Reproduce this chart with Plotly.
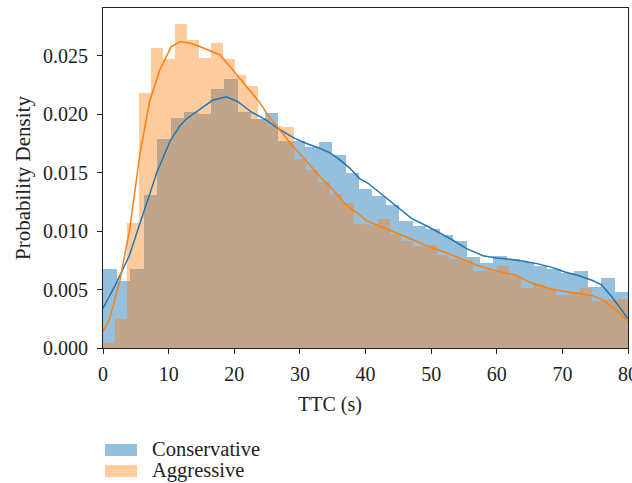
import numpy as np
import plotly.graph_objects as go

# ---------------- data ----------------
# histogram bins (density), both series span ~0.06 .. 80 s
cons_range = (0.06, 80.0)
cons_density = [0.0068, 0.0057, 0.0068, 0.0131, 0.0179, 0.0197, 0.0202, 0.0200, 0.0222, 0.0230,
                0.0202, 0.0196, 0.0201, 0.0177, 0.0177, 0.0172, 0.0176, 0.0165, 0.0150, 0.0136,
                0.0130, 0.0122, 0.0109, 0.0104, 0.0102, 0.0097, 0.0092, 0.0078, 0.0073, 0.0079,
                0.0076, 0.0074, 0.0070, 0.0068, 0.0064, 0.0066, 0.0052, 0.0060, 0.0048]

aggr_range = (0.06, 80.0)
aggr_density = [0.0004, 0.0025, 0.0107, 0.0218, 0.0257, 0.0247, 0.0277, 0.0264, 0.0248, 0.0261,
                0.0247, 0.0234, 0.0224, 0.0196, 0.0190, 0.0189, 0.0162, 0.0152, 0.0142, 0.0132,
                0.0124, 0.0106, 0.0105, 0.0110, 0.0098, 0.0092, 0.0087, 0.0088, 0.0080, 0.0076,
                0.0075, 0.0066, 0.0067, 0.0070, 0.0062, 0.0051, 0.0055, 0.0051, 0.0045, 0.0048,
                0.0051, 0.0040, 0.0041, 0.0042]

# KDE curves
cons_kde_x = [0.0, 1.9, 4.0, 6.2, 8.25, 10.3, 11.7, 12.7, 14.7, 16.7, 18.8, 20.5, 22.6, 24.9, 26.9,
              29.0, 31.0, 33.0, 34.6, 36.1, 37.6, 39.1, 40.4, 42.4, 44.5, 47.0, 49.5, 52.1, 53.4,
              55.4, 57.9, 60.0, 62.0, 64.3, 66.3, 68.4, 70.4, 72.4, 74.5, 76.0, 77.5, 79.1, 80.0]
cons_kde_y = [0.0034, 0.0054, 0.0079, 0.0117, 0.0151, 0.0178, 0.0190, 0.0196, 0.0204, 0.0212, 0.0215,
              0.0211, 0.0202, 0.0195, 0.0187, 0.0180, 0.0175, 0.0171, 0.0167, 0.0161, 0.0154, 0.0145,
              0.0141, 0.0132, 0.0122, 0.0111, 0.0104, 0.0096, 0.0092, 0.0085, 0.0079, 0.0077, 0.0076,
              0.0074, 0.0072, 0.0069, 0.0065, 0.0062, 0.0058, 0.0054, 0.0044, 0.0032, 0.0025]

aggr_kde_x = [0.0, 1.0, 2.55, 4.07, 5.6, 7.1, 8.65, 10.4, 11.7, 13.2, 14.7, 17.8, 19.8, 21.8, 23.9,
              25.4, 26.9, 29.0, 31.0, 33.0, 35.1, 37.1, 39.1, 40.1, 42.4, 44.9, 47.5, 49.5, 52.1,
              53.4, 55.4, 57.4, 60.0, 63.0, 65.1, 68.4, 71.9, 74.5, 76.2, 77.8, 80.0]
aggr_kde_y = [0.0014, 0.0025, 0.0057, 0.0102, 0.0165, 0.0211, 0.0238, 0.0258, 0.0262, 0.0261, 0.0258,
              0.0251, 0.0238, 0.0224, 0.0210, 0.0197, 0.0187, 0.0172, 0.0160, 0.0147, 0.0135, 0.0122,
              0.0114, 0.0109, 0.0104, 0.0098, 0.0092, 0.0087, 0.0082, 0.0079, 0.0074, 0.0070, 0.0066,
              0.0062, 0.0056, 0.0050, 0.0047, 0.0045, 0.0041, 0.0034, 0.0023]

x_ticks = [0, 10, 20, 30, 40, 50, 60, 70, 80]
y_ticks = [0.000, 0.005, 0.010, 0.015, 0.020, 0.025]
series_names = ["Conservative", "Aggressive"]
x_title = "TTC (s)"
y_title = "Probability Density"

# ---------------- styling ----------------
BLUE = "#1f77b4"
ORANGE = "#ff7f0e"
BLUE_FILL = "rgba(31,119,180,0.47)"
ORANGE_FILL = "rgba(255,127,14,0.40)"
FONT = "Liberation Serif"
TXT = "#222222"
FS = 20


def bins(rng, dens):
    edges = np.linspace(rng[0], rng[1], len(dens) + 1)
    return (edges[:-1] + edges[1:]) / 2, edges[1] - edges[0]


fig = go.Figure()
cx, cw = bins(cons_range, cons_density)
ax, aw = bins(aggr_range, aggr_density)

fig.add_trace(go.Bar(x=cx, y=cons_density, width=cw, marker=dict(color=BLUE_FILL, line=dict(width=0)),
                     name=series_names[0], showlegend=False))
fig.add_trace(go.Scatter(x=cons_kde_x, y=cons_kde_y, mode="lines", line=dict(color=BLUE, width=1.5),
                         showlegend=False))
fig.add_trace(go.Bar(x=ax, y=aggr_density, width=aw, marker=dict(color=ORANGE_FILL, line=dict(width=0)),
                     name=series_names[1], showlegend=False))
fig.add_trace(go.Scatter(x=aggr_kde_x, y=aggr_kde_y, mode="lines", line=dict(color=ORANGE, width=1.5),
                         showlegend=False))

# layout geometry (pixels)
W, H = 632, 483
ml, mr, mt, mb = 103, 4, 8, 135
pw, ph = W - ml - mr, H - mt - mb


def px_to_paper(xp, yp):
    return (xp - ml) / pw, (H - mb - yp) / ph


# manual legend below the plot (patch + text)
for i, (name, col) in enumerate(zip(series_names, [BLUE_FILL, ORANGE_FILL])):
    yc = 450 + i * 21
    x0, y0 = px_to_paper(105, yc - 6)
    x1, y1 = px_to_paper(137, yc + 6)
    fig.add_shape(type="rect", xref="paper", yref="paper", x0=x0, x1=x1, y0=y1, y1=y0,
                  fillcolor=col, line=dict(width=0))
    tx, ty = px_to_paper(150, yc - 1)
    fig.add_annotation(xref="paper", yref="paper", x=tx, y=ty, text=name, showarrow=False,
                       xanchor="left", yanchor="middle", font=dict(family=FONT, size=20.5, color=TXT))

# x axis title (sits left of centre in the reference)
tx, ty = px_to_paper(330, 404)
fig.add_annotation(xref="paper", yref="paper", x=tx, y=ty, text=x_title, showarrow=False,
                   xanchor="center", yanchor="middle", font=dict(family=FONT, size=FS, color=TXT))

axis_common = dict(showline=True, linecolor=TXT, linewidth=1.2, mirror=True, ticks="outside",
                   ticklen=5, tickwidth=1.2, tickcolor=TXT, showgrid=False, zeroline=False,
                   tickfont=dict(family=FONT, size=FS, color=TXT), ticklabeloverflow="allow",
                   automargin=False)

fig.update_layout(
    width=W, height=H,
    margin=dict(l=ml, r=mr, t=mt, b=mb, autoexpand=False),
    plot_bgcolor="white", paper_bgcolor="white",
    barmode="overlay", bargap=0,
    xaxis=dict(range=[0, 80], tickvals=x_ticks, ticktext=[str(v) for v in x_ticks],
               ticklabelstandoff=3, **axis_common),
    yaxis=dict(range=[0, 0.0291], tickvals=y_ticks, ticktext=[f"{v:.3f}" for v in y_ticks],
               title=dict(text=y_title, font=dict(family=FONT, size=21, color=TXT), standoff=6),
               ticklabelstandoff=5, **axis_common),
    font=dict(family=FONT),
)

fig.write_html("out.html")
